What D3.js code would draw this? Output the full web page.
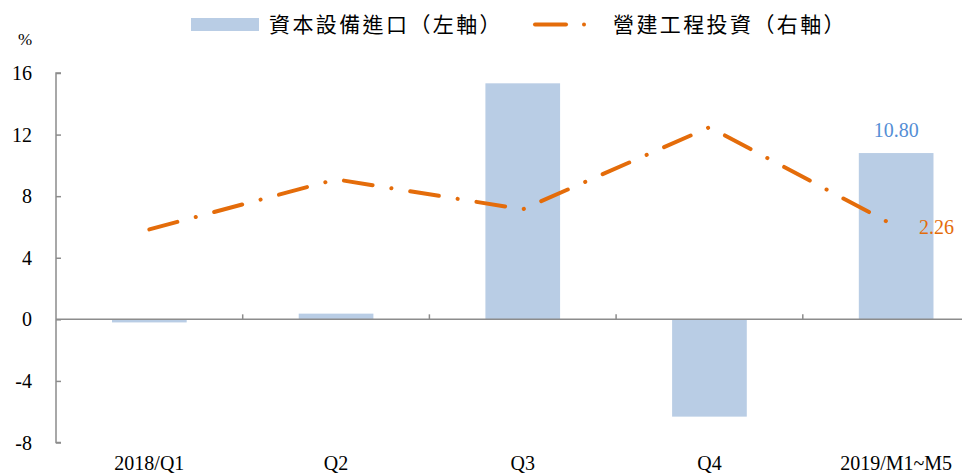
<!DOCTYPE html>
<html>
<head>
<meta charset="utf-8">
<script src="https://cdn.jsdelivr.net/npm/d3@7"></script>
<style>
  html, body { margin: 0; padding: 0; background: #fff; }
  svg { display: block; }
</style>
</head>
<body>
<svg id="chart" width="962" height="476"></svg>
<script>
const categories = ["2018/Q1", "Q2", "Q3", "Q4", "2019/M1~M5"];
const capitalImports = [-0.2, 0.37, 15.33, -6.32, 10.80];       // 資本設備進口 (left axis)
const constructionInvestment = [2.19, 3.41, 2.68, 4.68, 2.26];  // 營建工程投資 (right axis)
const leftTicks = [-8, -4, 0, 4, 8, 12, 16];
const rightDomain = [-3, 6];
const seriesNames = ["資本設備進口（左軸）", "營建工程投資（右軸）"];

const svg = d3.select("#chart");
const serif = "'Liberation Serif','Times New Roman',serif";
const cjk = "'Noto Sans CJK TC','Noto Sans CJK SC',sans-serif";
const axisColor = "#8c8c8c";
const barColor = "#B9CDE5";
const lineColor = "#E46C0A";

const x = d3.scaleBand().domain(categories).range([56, 989.5]).paddingInner(0.6).paddingOuter(0.3);
const yL = d3.scaleLinear().domain([-8, 16]).range([442.5, 73]);
const yR = d3.scaleLinear().domain(rightDomain).range([442.5, 73]);

// bars
svg.append("g").selectAll("rect").data(capitalImports).join("rect")
  .attr("x", (d, i) => x(categories[i]))
  .attr("width", x.bandwidth())
  .attr("y", d => yL(Math.max(0, d)))
  .attr("height", d => Math.abs(yL(d) - yL(0)))
  .attr("fill", barColor);

// left axis
const gy = svg.append("g").attr("transform", "translate(56,0)")
  .call(d3.axisRight(yL).tickValues(leftTicks).tickSize(5).tickFormat(""));
gy.select(".domain").attr("stroke", axisColor).attr("stroke-width", 1.5).attr("d", `M5,${yL(16)}H0V${yL(-8)}H5`);
gy.selectAll(".tick line").attr("stroke", axisColor).attr("stroke-width", 1.5);

svg.append("g").selectAll("text").data(leftTicks).join("text")
  .attr("x", 32).attr("y", d => yL(d)).attr("dy", "0.35em")
  .attr("text-anchor", "end")
  .attr("font-family", serif).attr("font-size", 20).attr("fill", "#000")
  .text(d => d);
svg.append("text").attr("x", 25).attr("y", 45).attr("text-anchor", "middle")
  .attr("font-family", serif).attr("font-size", 17).attr("fill", "#000").text("%");

// x axis at zero
const step = x.step();
const boundaries = categories.slice(1).map(c => x(c) - step * 0.3);
svg.append("line").attr("x1", 56).attr("x2", 962).attr("y1", yL(0)).attr("y2", yL(0))
  .attr("stroke", axisColor).attr("stroke-width", 1.5);
svg.append("g").selectAll("line").data(boundaries).join("line")
  .attr("x1", d => d).attr("x2", d => d).attr("y1", yL(0)).attr("y2", yL(0) - 5)
  .attr("stroke", axisColor).attr("stroke-width", 1.5);
svg.append("g").selectAll("text").data(categories).join("text")
  .attr("x", d => x(d) + x.bandwidth() / 2).attr("y", 470)
  .attr("text-anchor", "middle")
  .attr("font-family", serif).attr("font-size", 20).attr("fill", "#000")
  .text(d => d);

// line
const line = d3.line().x((d, i) => x(categories[i]) + x.bandwidth() / 2).y(d => yR(d));
svg.append("path").datum(constructionInvestment)
  .attr("d", line).attr("fill", "none")
  .attr("stroke", lineColor).attr("stroke-width", 4)
  .attr("stroke-linecap", "round").attr("stroke-dasharray", "29,19,0.1,19");

// value labels
const last = categories.length - 1;
svg.append("text").attr("x", x(categories[last]) + x.bandwidth() / 2).attr("y", 137)
  .attr("text-anchor", "middle").attr("font-family", serif).attr("font-size", 20)
  .attr("fill", "#558ED5").text(capitalImports[last].toFixed(2));
svg.append("text").attr("x", 919).attr("y", yR(constructionInvestment[last]) + 7)
  .attr("font-family", serif).attr("font-size", 20)
  .attr("fill", lineColor).text(constructionInvestment[last].toFixed(2));

// legend
svg.append("rect").attr("x", 191).attr("y", 18).attr("width", 68).attr("height", 13).attr("fill", barColor);
svg.append("text").attr("x", 269).attr("y", 32).attr("font-family", cjk).attr("font-size", 21)
  .attr("letter-spacing", 2.4).attr("fill", "#000").text(seriesNames[0]);
svg.append("line").attr("x1", 535).attr("x2", 566).attr("y1", 24.5).attr("y2", 24.5)
  .attr("stroke", lineColor).attr("stroke-width", 4).attr("stroke-linecap", "round");
svg.append("circle").attr("cx", 584).attr("cy", 24.5).attr("r", 2).attr("fill", lineColor);
svg.append("text").attr("x", 613).attr("y", 32).attr("font-family", cjk).attr("font-size", 21)
  .attr("letter-spacing", 2.4).attr("fill", "#000").text(seriesNames[1]);
</script>
</body>
</html>
